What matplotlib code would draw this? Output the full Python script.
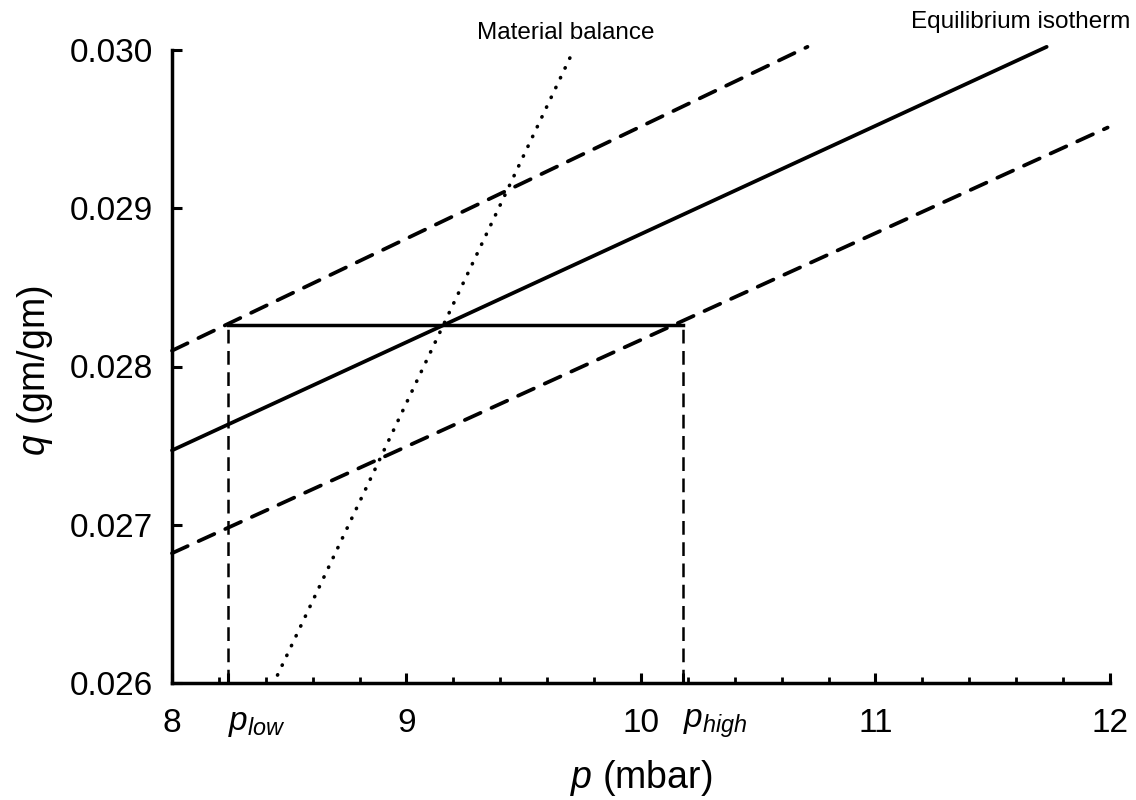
import numpy as np
import matplotlib
matplotlib.use('Agg')
import matplotlib.pyplot as plt

plt.rcParams['font.family'] = ['Liberation Sans', 'DejaVu Sans']
plt.rcParams['mathtext.fontset'] = 'custom'
plt.rcParams['mathtext.rm'] = 'Liberation Sans'
plt.rcParams['mathtext.it'] = 'Liberation Sans:italic'

# operating pressures and loading
P_LOW = 8.24
P_HIGH = 10.18
Q_OP = 0.02826

# equilibrium isotherm and the two offset (dashed) lines, end points
iso_p = [8.0, 11.73]
iso_q = [0.02747, 0.03002]
upper_p = [8.0, 10.71]
upper_q = [0.02810, 0.03002]
lower_p = [8.0, 11.99]
lower_q = [0.02682, 0.02951]

# material balance line
mb_p = [8.45, 9.70]
mb_q = [0.02605, 0.02996]

x_ticks = [8, P_LOW, 9, 10, P_HIGH, 11, 12]
x_labels = ['8', r'$p_{low}$', '9', '10', r'$p_{high}$', '11', '12']
y_ticks = [0.026, 0.027, 0.028, 0.029, 0.030]
y_labels = ['0.026', '0.027', '0.028', '0.029', '0.030']

fig = plt.figure(figsize=(11.36, 8), dpi=100)
ax = fig.add_axes([0.1514, 0.14625, 0.8257, 0.79125])

lw = 2.7
ax.plot(iso_p, iso_q, color='black', lw=lw, solid_capstyle='round', clip_on=False)
for pp, qq in [(upper_p, upper_q), (lower_p, lower_q)]:
    ax.plot(pp, qq, color='black', lw=lw, dashes=(4.6, 3.2),
            dash_capstyle='round', clip_on=False)
ax.plot(mb_p, mb_q, color='black', lw=2.6, dashes=(0.1, 2.9),
        dash_capstyle='round', clip_on=False)

# operating line and the drop lines to the pressure axis
ax.plot([P_LOW, P_HIGH], [Q_OP, Q_OP], color='black', lw=2.5)
for p in [P_LOW, P_HIGH]:
    ax.plot([p, p], [0.026, Q_OP], color='black', lw=1.8, dashes=(5.5, 3))

ax.text(9.68, 0.030107, 'Material balance', fontsize=17.5, ha='center',
        va='center', clip_on=False)
ax.text(11.62, 0.030177, 'Equilibrium isotherm', fontsize=17.5, ha='center',
        va='center', clip_on=False)

ax.set_xlim(8, 12)
ax.set_ylim(0.026, 0.030)
ax.spines['top'].set_visible(False)
ax.spines['right'].set_visible(False)
for s in ['left', 'bottom']:
    ax.spines[s].set_linewidth(2.5)

ax.set_xticks(x_ticks)
ax.set_xticklabels(x_labels)
for lab, t in zip(ax.get_xticklabels(), x_ticks):
    if t in (P_LOW, P_HIGH):
        lab.set_horizontalalignment('left')
ax.set_xticks(np.arange(8, 12.01, 0.2), minor=True)
ax.set_yticks(y_ticks)
ax.set_yticklabels(y_labels)

ax.tick_params(axis='both', which='major', direction='in', length=7, width=2.2,
               labelsize=24, pad=14)
ax.tick_params(axis='x', which='major', pad=18)
ax.tick_params(axis='x', which='minor', direction='in', length=4, width=2)

ax.set_xlabel(r'$p$ (mbar)', fontsize=27, va='center')
ax.set_ylabel(r'$q$ (gm/gm)', fontsize=27, va='center')
ax.xaxis.set_label_coords(0.5, -0.15)
ax.yaxis.set_label_coords(-0.146, 0.494)

fig.savefig('out.png', dpi=100)
